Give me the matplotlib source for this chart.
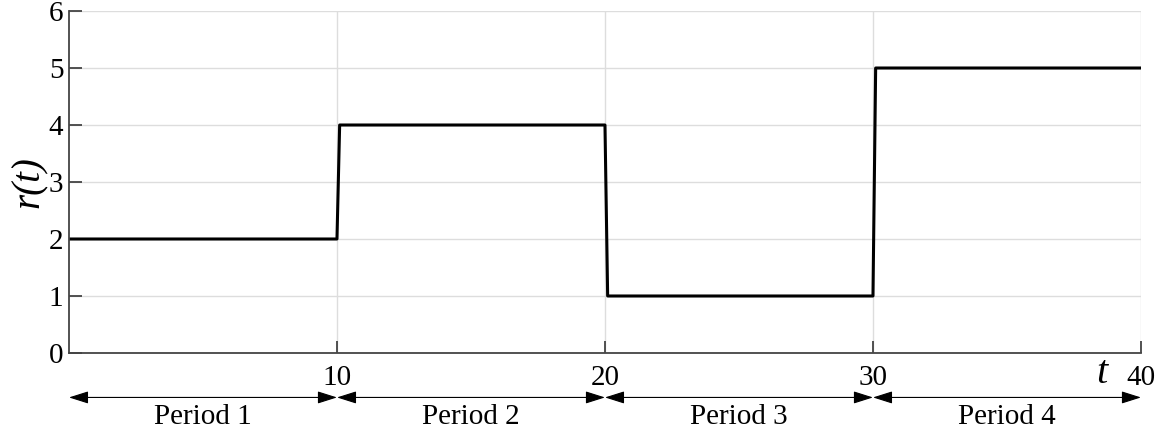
import matplotlib
matplotlib.use("Agg")
import matplotlib.pyplot as plt

t = [0, 10, 10.1, 20, 20.1, 30, 30.1, 40]
r = [2, 2, 4, 4, 1, 1, 5, 5]
period_bounds = [0, 10, 20, 30, 40]
period_labels = ["Period 1", "Period 2", "Period 3", "Period 4"]
xticks = [10, 20, 30, 40]
yticks = [0, 1, 2, 3, 4, 5, 6]

plt.rcParams['font.family'] = ['Liberation Serif', 'DejaVu Serif']

fig = plt.figure(figsize=(11.67, 4.32), dpi=100)
ax = fig.add_axes([0.0591, 0.1829, 0.9186, 0.7916])
ax.plot(t, r, color='black', lw=2.2)
ax.set_xlim(0, 40)
ax.set_ylim(0, 6)
ax.set_xticks(xticks)
ax.set_yticks(yticks)
ax.set_xticklabels([str(v) for v in xticks])
ax.grid(True, color='#dddddd', lw=1)
ax.set_axisbelow(True)
for s in ['top', 'right']:
    ax.spines[s].set_visible(False)
for s in ['left', 'bottom']:
    ax.spines[s].set_color('#444444')
    ax.spines[s].set_linewidth(1.3)
ax.tick_params(direction='in', length=9, width=1.3, color='#444444', labelsize=21, pad=4)
ax.tick_params(axis='x', pad=9)
ax.text(-0.037, 0.5, 'r(t)', transform=ax.transAxes, fontsize=28, style='italic',
        rotation=90, ha='center', va='center')
ax.text(38.55, -0.53, 't', fontsize=29, style='italic', ha='center', va='baseline')

y_arrow = -0.78
for i, lab in enumerate(period_labels):
    a, b = period_bounds[i], period_bounds[i + 1]
    ax.annotate('', xy=(b, y_arrow), xytext=(a, y_arrow), xycoords='data',
                arrowprops=dict(arrowstyle='<|-|>,head_length=1.2,head_width=0.38',
                                color='black', lw=0.8, shrinkA=0, shrinkB=0),
                annotation_clip=False)
    ax.text((a + b) / 2, y_arrow - 0.12, lab, fontsize=21, ha='center', va='top')

fig.savefig('out.png', dpi=100)
